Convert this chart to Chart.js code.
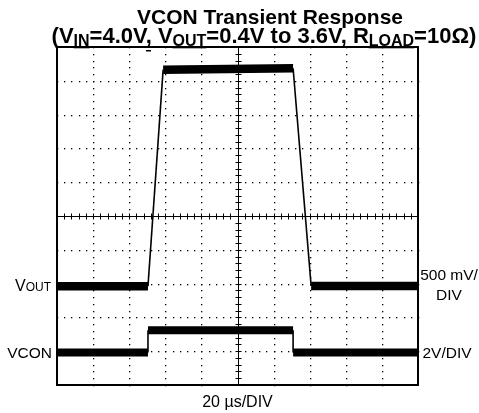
<!DOCTYPE html>
<html>
<head>
<meta charset="utf-8">
<script src="https://cdn.jsdelivr.net/npm/chart.js@4.4.0/dist/chart.umd.min.js"></script>
<style>
    html, body { margin: 0; padding: 0; background: #fff; }
    #wrap { width: 479px; height: 413px; }
</style>
</head>
<body>
<div id="wrap"><canvas id="scope" width="479" height="413"></canvas></div>
<script>
// Scope capture, both axes in screen divisions (10 x 10)
// time: 20 us/DIV, VOUT: 500 mV/DIV, VCON: 2 V/DIV
const voutTime  = [0, 2.52, 2.94, 6.54, 7.04, 10];
const voutLevel = [2.92, 2.92, 9.33, 9.37, 2.93, 2.93];
const vconTime  = [0, 2.52, 2.52, 6.54, 6.54, 10];
const vconLevel = [0.96, 0.96, 1.62, 1.62, 0.96, 0.96];
const triggerTime = 2.52;

const divisions = [0, 1, 2, 3, 4, 5, 6, 7, 8, 9, 10];
const titleText = 'VCON Transient Response';
const subtitleParts = [
    ['(V', false], ['IN', true], ['=4.0V, V', false], ['OUT', true],
    ['=0.4V to 3.6V, R', false], ['LOAD', true], ['=10\u03A9)', false]
];
const voutScaleText = ['500 mV/', 'DIV'];
const vconScaleText = '2V/DIV';
const timeScaleText = '20 \u00B5s/DIV';

const FONT = "'Liberation Sans', Arial, sans-serif";

function toPoints(xs, ys) {
    return xs.map((x, i) => ({ x: x, y: ys[i] }));
}

// thick trace on flat parts, thin on the edges
function traceWidth(flatWidth) {
    return ctx => Math.abs(ctx.p0.parsed.y - ctx.p1.parsed.y) < 0.3 ? flatWidth : 1.6;
}

// graticule: dotted divisions, centre cross with minor ticks, frame
const graticule = {
    id: 'graticule',
    beforeDatasetsDraw(chart) {
        const { ctx, chartArea: a, scales: { x, y } } = chart;
        ctx.save();
        ctx.fillStyle = '#000';
        divisions.forEach(d => {
            if (d === 0 || d === 10 || d === 5) return;
            const px = Math.round(x.getPixelForValue(d));
            const py = Math.round(y.getPixelForValue(d));
            for (let s = 0; s <= 50; s++) {
                const v = s / 5;
                ctx.fillRect(px, Math.round(y.getPixelForValue(v)), 1.3, 1.3);
                ctx.fillRect(Math.round(x.getPixelForValue(v)), py, 1.3, 1.3);
            }
        });
        // centre lines
        const cx = Math.round(x.getPixelForValue(5)) + 0.5;
        const cy = Math.round(y.getPixelForValue(5)) + 0.5;
        ctx.strokeStyle = '#000';
        ctx.lineWidth = 1;
        ctx.beginPath();
        ctx.moveTo(a.left, cy); ctx.lineTo(a.right, cy);
        ctx.moveTo(cx, a.top); ctx.lineTo(cx, a.bottom);
        for (let s = 1; s < 50; s++) {
            const v = s / 5;
            const tx = Math.round(x.getPixelForValue(v)) + 0.5;
            const ty = Math.round(y.getPixelForValue(v)) + 0.5;
            ctx.moveTo(tx, cy - 3); ctx.lineTo(tx, cy + 3);
            ctx.moveTo(cx - 3, ty); ctx.lineTo(cx + 3, ty);
        }
        ctx.stroke();
        // trigger marker
        const trig = x.getPixelForValue(triggerTime);
        ctx.fillRect(trig - 2, a.top + 3, 5, 1.5);
        ctx.restore();
    },
    afterDraw(chart) {
        const { ctx, chartArea: a, scales: { x, y } } = chart;
        ctx.save();
        ctx.strokeStyle = '#000';
        ctx.lineWidth = 2;
        ctx.strokeRect(a.left, a.top, a.right - a.left, a.bottom - a.top);

        ctx.fillStyle = '#000';
        ctx.textBaseline = 'alphabetic';

        // title
        ctx.font = 'bold 21px ' + FONT;
        ctx.textAlign = 'center';
        ctx.fillText(titleText, 270, 24);

        // subtitle with subscripts
        const mainFont = 'bold 22px ' + FONT;
        const subFont = 'bold 16px ' + FONT;
        let total = 0;
        subtitleParts.forEach(([t, sub]) => {
            ctx.font = sub ? subFont : mainFont;
            total += ctx.measureText(t).width;
        });
        let sx = 264 - total / 2;
        ctx.textAlign = 'left';
        subtitleParts.forEach(([t, sub]) => {
            ctx.font = sub ? subFont : mainFont;
            const w = ctx.measureText(t).width;
            ctx.fillText(t, sx, sub ? 46 : 43);
            if (sub) ctx.fillRect(sx, 47, w, 1.3);
            sx += w;
        });

        // channel labels on the left
        const yOut = y.getPixelForValue(voutLevel[0]);
        const yCon = y.getPixelForValue(vconLevel[0]);
        ctx.font = '12px ' + FONT;
        ctx.textAlign = 'right';
        const outW = ctx.measureText('OUT').width;
        ctx.fillText('OUT', a.left - 6, yOut + 5);
        ctx.font = '16px ' + FONT;
        ctx.fillText('V', a.left - 6 - outW, yOut + 5);
        ctx.font = '15.5px ' + FONT;
        ctx.fillText('VCON', a.left - 5, yCon + 5.5);

        // scale labels on the right
        ctx.textAlign = 'center';
        ctx.fillText(voutScaleText[0], a.right + 31, yOut - 6);
        ctx.fillText(voutScaleText[1], a.right + 31, yOut + 14);
        ctx.fillText(vconScaleText, a.right + 29, yCon + 5.5);

        // time base
        ctx.font = '16px ' + FONT;
        ctx.fillText(timeScaleText, (a.left + a.right) / 2, 407);
        ctx.restore();
    }
};

new Chart(document.getElementById('scope'), {
    type: 'line',
    data: {
        datasets: [{
            label: 'VOUT',
            data: toPoints(voutTime, voutLevel),
            borderColor: '#000',
            borderWidth: 8,
            pointRadius: 0,
            tension: 0,
            clip: 0,
            segment: { borderWidth: traceWidth(8.5) }
        }, {
            label: 'VCON',
            data: toPoints(vconTime, vconLevel),
            borderColor: '#000',
            borderWidth: 8,
            pointRadius: 0,
            tension: 0,
            clip: 0,
            segment: { borderWidth: traceWidth(8) }
        }]
    },
    options: {
        responsive: false,
        animation: false,
        layout: { padding: { left: 57, right: 61, top: 47, bottom: 28 } },
        plugins: { legend: { display: false }, tooltip: { enabled: false }, title: { display: false } },
        scales: {
            x: { type: 'linear', min: 0, max: 10, display: false },
            y: { type: 'linear', min: 0, max: 10, display: false }
        }
    },
    plugins: [graticule]
});
</script>
</body>
</html>
